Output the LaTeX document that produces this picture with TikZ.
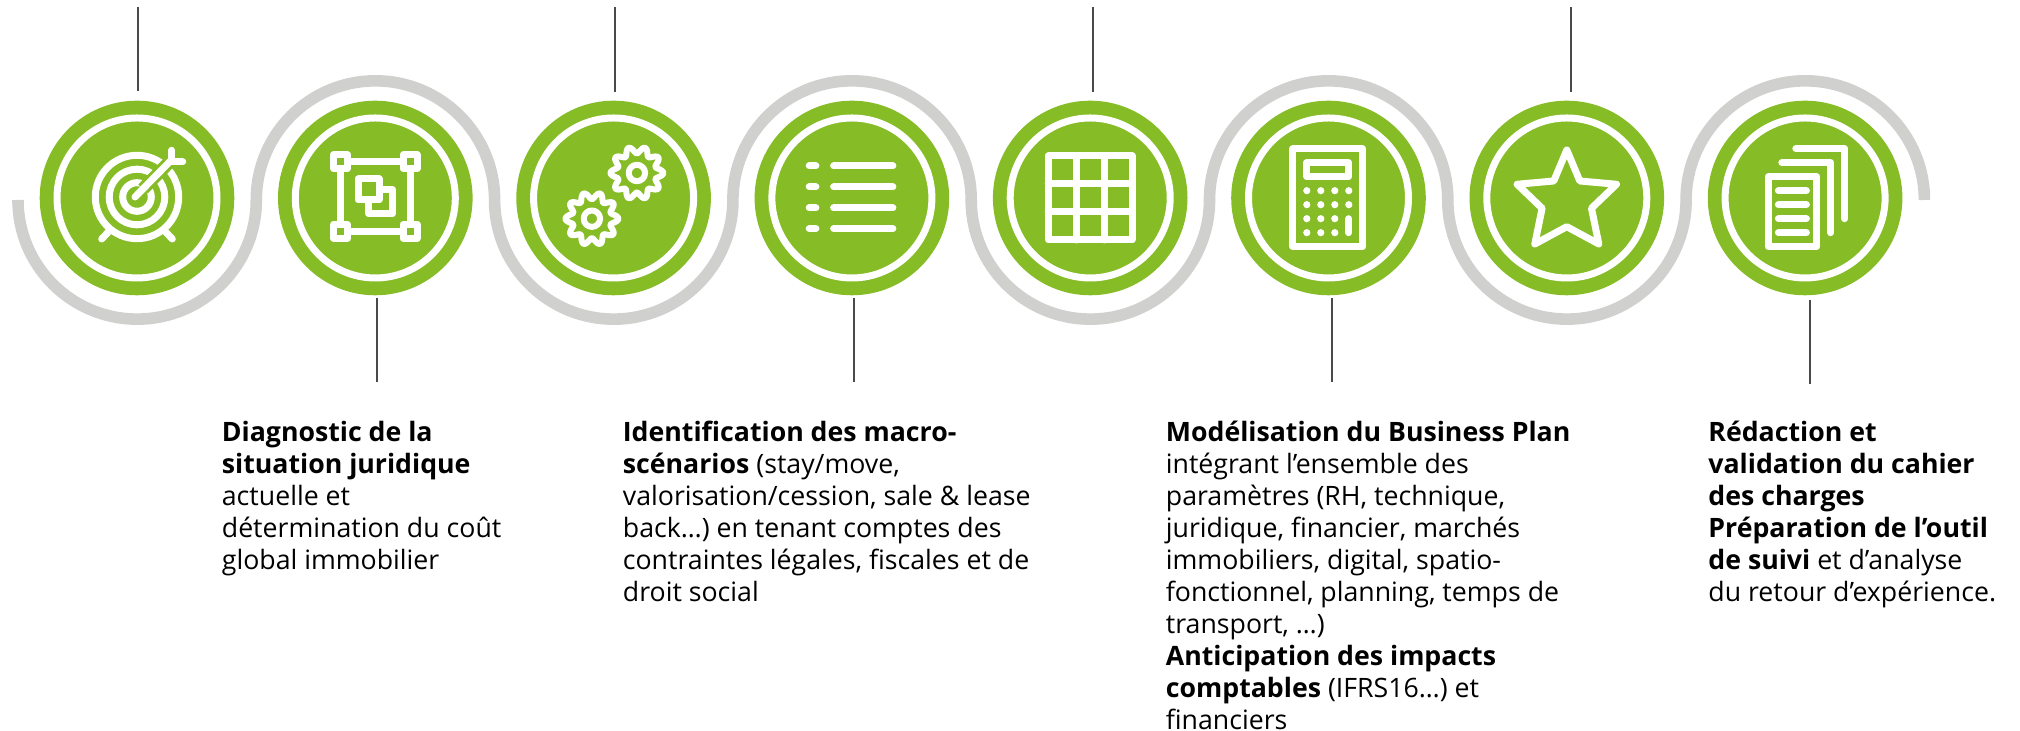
\documentclass[tikz,border=0pt]{standalone}
\usepackage{fontspec}
\setmainfont{Open Sans}
\usetikzlibrary{positioning}
\definecolor{leafgreen}{HTML}{86BC25}
\definecolor{pathgray}{HTML}{D0D0CE}
\definecolor{leadergray}{HTML}{4A4A4A}
\tikzset{
  stepdisc/.style={circle, fill=leafgreen, minimum size=194.6*0.5pt, inner sep=0pt},
  ring/.style={draw=white, line width=3.5pt},
  iconline/.style={draw=white, line width=3.5pt, line cap=round, line join=round},
  pathline/.style={draw=pathgray, line width=5.8pt},
  leader/.style={draw=leadergray, line width=1pt},
  steptext/.style={anchor=north west, align=left, inner sep=0pt, font=\fontsize{13.35}{16}\selectfont}
}
\begin{document}
\begin{tikzpicture}[x=0.5pt,y=0.5pt]
  \useasboundingbox (0,0) rectangle (2020,731);

  % Grey wave
  \draw[pathline] (18,531) arc[start angle=180, end angle=360, radius=119.15]
    arc[start angle=180, end angle=0, radius=119.15]
    arc[start angle=180, end angle=360, radius=119.15]
    arc[start angle=180, end angle=0, radius=119.15]
    arc[start angle=180, end angle=360, radius=119.15]
    arc[start angle=180, end angle=0, radius=119.15]
    arc[start angle=180, end angle=360, radius=119.15]
    arc[start angle=180, end angle=0, radius=119.15];

  % Discs
  \foreach \name/\cx in {c1/137, c2/375.3, c3/613.6, c4/851.9, c5/1090.2, c6/1328.5, c7/1566.8, c8/1805.1} {
    \node[stepdisc] (\name) at (\cx,533) {};
    \draw[ring] (\cx,533) circle (80);
  }

  % Target
  \begin{scope}[shift={(c1)}]
    \draw[iconline] (0,1) circle (41.7) (0,1) circle (27.8) (0,1) circle (14.3);
    \draw[leafgreen, line width=6.5pt] (6,9) -- (32,35.5);
    \draw[iconline] (-2,1) -- (34.7,38.3);
    \draw[iconline] (34.7,47.7) -- (34.7,36) -- (45.7,36);
    \draw[iconline] (-28.7,-34) -- (-35.3,-41);
    \draw[iconline] (28.7,-34) -- (35.3,-41);
  \end{scope}

  % Frame with two squares
  \begin{scope}[shift={(c2)}]
    \draw[iconline] (-34.7,36.3) -- (34.7,36.3) -- (34.7,-33.3) -- (-34.7,-33.3) -- cycle;
    \foreach \px in {-34.7,34.7} \foreach \py in {36.3,-33.3}
      \draw[iconline, fill=leafgreen] (\px-7,\py-7) rectangle (\px+7,\py+7);
    \draw[iconline] (-6.7,8.3) rectangle (17.3,-16);
    \draw[iconline, fill=leafgreen] (-17.3,19) rectangle (3.7,-2);
  \end{scope}

  % Gears
  \begin{scope}[shift={(c3)}]
    \foreach \gx/\gy in {23.3/25, -21.7/-20.7} {
      \draw[iconline, line width=3pt] (\gx,\gy) circle (8.2);
      \draw[iconline, line width=3pt, shift={(\gx,\gy)}] plot[domain=0:360, samples=121, smooth] (\x:{23+3.5*cos(10*\x)}) -- cycle;
    }
  \end{scope}

  % List
  \begin{scope}[shift={(c4)}]
    \foreach \ly in {32,11,-10,-30.7} {
      \draw[iconline] (-42.7,\ly) -- (-36,\ly);
      \draw[iconline] (-18.3,\ly) -- (41,\ly);
    }
  \end{scope}

  % Grid
  \begin{scope}[shift={(c5)}]
    \draw[iconline] (-42,-42) rectangle (42,42);
    \draw[iconline] (-14,-42) -- (-14,42) (14,-42) -- (14,42) (-42,14) -- (42,14) (-42,-14) -- (42,-14);
  \end{scope}

  % Calculator
  \begin{scope}[shift={(c6)}]
    \draw[iconline] (-35.7,-48.7) rectangle (34.3,49);
    \draw[iconline] (-21.7,21.3) rectangle (20.3,35.3);
    \foreach \dy in {7.3,-6.7,-20.7,-34.7} \foreach \dx in {-21.7,-7.7,6.3}
      \fill[white] (\dx,\dy) circle (3.6);
    \fill[white] (20.3,7.3) circle (3.6) (20.3,-6.7) circle (3.6);
    \draw[iconline] (20.3,-20.7) -- (20.3,-34.7);
  \end{scope}

  % Star
  \begin{scope}[shift={(c7)}]
    \draw[iconline] (0,48) -- (13,17) -- (49.7,13.7) -- (24.7,-10.3) -- (32,-46) -- (0,-28.7)
      -- (-32,-46) -- (-24.7,-10.3) -- (-49.7,13.7) -- (-13,17) -- cycle;
  \end{scope}

  % Documents
  \begin{scope}[shift={(c8)}]
    \draw[iconline] (-37,-48.7) rectangle (11.7,21.3);
    \foreach \ly in {7.3,-6.7,-20.7,-34.7}
      \draw[iconline] (-26.7,\ly) -- (1.3,\ly);
    \draw[iconline] (-23.3,35.3) -- (25.7,35.3) -- (25.7,-34.7);
    \draw[iconline] (-9.3,49.3) -- (39.7,49.3) -- (39.7,-20.7);
  \end{scope}

  % Leaders
  \foreach \name/\lx/\ya/\yb in {l1/137.5/724/640, l2/376.7/433/349, l3/615.3/724/639, l4/854/433/349,
      l5/1093/724/639, l6/1332/433/349, l7/1571/724/639, l8/1809.7/431/347} {
    \coordinate (\name a) at (\lx,\ya);
    \coordinate (\name b) at (\lx,\yb);
    \draw[leader] (\name a) -- (\name b);
  }

  % Step texts
  \node[steptext] (t2) at (221.5,310.5) {\textbf{Diagnostic de la}\\\textbf{situation juridique}\\actuelle et\\détermination du coût\\global immobilier};
  \node[steptext] (t4) at (622.5,310.5) {\textbf{Identification des macro-}\\\textbf{scénarios} (stay/move,\\valorisation/cession, sale \& lease\\back…) en tenant comptes des\\contraintes légales, fiscales et de\\droit social};
  \node[steptext] (t6) at (1165.5,310.5) {\textbf{Modélisation du Business Plan}\\intégrant l’ensemble des\\paramètres (RH, technique,\\juridique, financier, marchés\\immobiliers, digital, spatio-\\fonctionnel, planning, temps de\\transport, …)\\\textbf{Anticipation des impacts}\\\textbf{comptables} (IFRS16…) et\\financiers};
  \node[steptext] (t8) at (1708,310.5) {\textbf{Rédaction et}\\\textbf{validation du cahier}\\\textbf{des charges}\\\textbf{Préparation de l’outil}\\\textbf{de suivi} et d’analyse\\du retour d’expérience.};
\end{tikzpicture}
\end{document}
